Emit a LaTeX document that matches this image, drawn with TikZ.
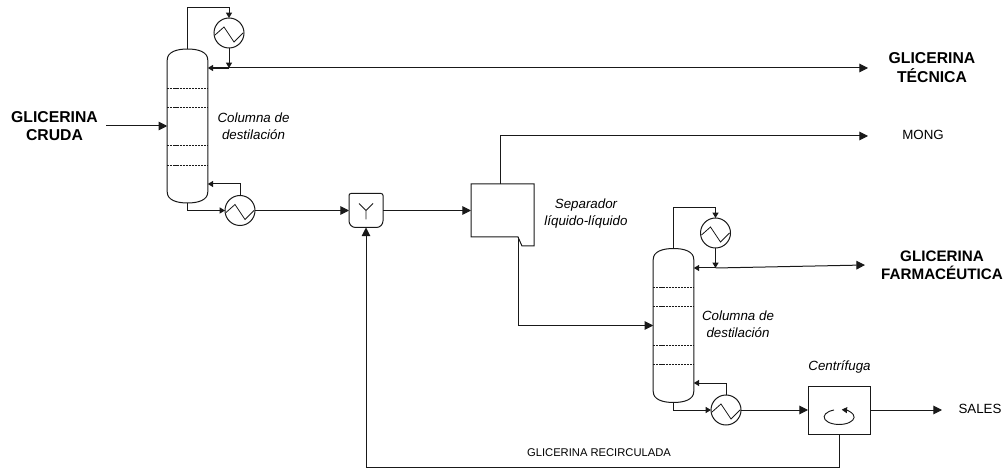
\documentclass[tikz,border=0pt]{standalone}
\usepackage{fontspec}
\setmainfont{Liberation Sans}
\usepackage{tikz}
\usetikzlibrary{arrows.meta,positioning,calc}
\definecolor{linea}{RGB}{25,25,25}
\tikzset{
  tubo/.style={draw=linea, line width=0.75pt},
  flujo/.style={tubo, -{Triangle[length=6.5pt,width=6.5pt]}},
  flujomin/.style={tubo, -{Triangle[length=4pt,width=4.5pt]}},
  cuerpo/.style={draw=none, inner sep=0pt, outer sep=0pt, minimum width=30.4pt, minimum height=115.5pt},
  plato/.style={draw=linea, line width=0.6pt, dash pattern=on 1.6pt off 0.7pt},
  intercambiador/.style={circle, draw=linea, line width=0.75pt, inner sep=0pt, outer sep=0pt, minimum size=22.5pt,
    path picture={\draw[linea, line width=0.6pt] ($(path picture bounding box.center)+(-14,2)$)
      -- ++(9,-8) -- ++(10,15) -- ++(9,-9);}},
  caja/.style={draw=none, inner sep=0pt, outer sep=0pt},
  corriente/.style={font=\fontsize{11.8}{14}\selectfont\bfseries, align=center, inner sep=0pt},
  rotulo/.style={font=\fontsize{10}{13}\selectfont\itshape, align=center, inner sep=0pt},
  menor/.style={font=\fontsize{10}{12}\selectfont, inner sep=0pt},
}
\newcommand{\columna}[1]{
  \draw[tubo] ($(#1.north west)+(0,11)$) .. controls ($(#1.north west)+(0,3)$) and ($(#1.north)+(-11,0)$) .. (#1.north)
    .. controls ($(#1.north)+(11,0)$) and ($(#1.north east)+(0,3)$) .. ($(#1.north east)+(0,11)$)
    -- ($(#1.south east)+(0,-11)$) .. controls ($(#1.south east)+(0,-3)$) and ($(#1.south)+(11,0)$) .. (#1.south)
    .. controls ($(#1.south)+(-11,0)$) and ($(#1.south west)+(0,-3)$) .. ($(#1.south west)+(0,-11)$) -- cycle;
  \foreach \dy in {39,58,96.5,116}
    \draw[plato] ($(#1.north west)+(0,\dy)$) -- ($(#1.north east)+(0,\dy)$);
}

\begin{document}
\begin{tikzpicture}[x=0.75pt, y=-0.75pt]
  \useasboundingbox (0,0) rectangle (1007,470);

  % primera columna
  \node[cuerpo] (col1) at (187.5,126) {};
  \columna{col1}
  \node[intercambiador] (cond1) at (229,33) {};
  \node[intercambiador] (reb1) at (240,210.5) {};
  \coordinate (jun1) at (229,68);
  \coordinate (sal1) at (868,68);
  \coordinate (feed1) at (106,126);
  \node[corriente] (crude) at (54.5,126) {GLICERINA\\CRUDA};
  \node[corriente] (tecnica) at (932,67.5) {GLICERINA\\TÉCNICA};
  \node[rotulo] (lbl1) at (253.5,126.5) {Columna de\\destilación};
  \draw[flujo] (feed1) -- (col1.west);
  \draw[flujomin] (col1.north) |- (187.5,8) -| (cond1.north);
  \draw[flujomin] (cond1.south) -- (jun1);
  \draw[flujo] (jun1) -- (sal1);
  \draw[flujomin, line width=1.1pt] (jun1) -- (jun1 -| col1.east);
  \draw[flujomin] (col1.south) |- (reb1.west);
  \draw[flujomin] (reb1.north) |- (col1.east |- 0,184);

  % mezclador
  \node[caja, minimum width=25.5pt, minimum height=25.5pt] (mix) at (366,210.5) {};
  \draw[tubo, rounded corners=1.5pt] (mix.west) |- (mix.north) -| (mix.east);
  \draw[tubo, rounded corners=5pt] (mix.east) |- (mix.south) -| (mix.west);
  \draw[tubo, line width=0.6pt] ($(mix.center)+(0,9)$) -- (mix.center) -- ++(-7,-7)
    (mix.center) -- ++(7,-7);
  \draw[flujo] (reb1.east) -- (mix.west);

  % separador
  \node[caja, minimum width=47.25pt, minimum height=39.75pt] (sep) at (502.5,210.5) {};
  \coordinate (septop) at (500,184);
  \coordinate (sepbot) at (518,237);
  \coordinate (sal2) at (868,136);
  \draw[tubo] (sep.north west) -- (sep.north east) -- ($(sep.south east)+(0,9)$) -- ++(-12,0)
    -- (sepbot) -- (sep.south west) -- cycle;
  \node[rotulo] (lbl2) at (586,213.5) {Separador\\líquido-líquido};
  \node[menor] (mong) at (923,135) {MONG};
  \draw[flujo] (mix.east) -- (sep.west);
  \draw[flujo] (septop) |- (sal2);

  % segunda columna
  \node[cuerpo] (col2) at (673.5,325.5) {};
  \columna{col2}
  \node[intercambiador] (cond2) at (715.5,233) {};
  \node[intercambiador] (reb2) at (726,410) {};
  \coordinate (jun2) at (715.5,268);
  \coordinate (sal3) at (865,265);
  \node[corriente, font=\fontsize{11.4}{13.5}\selectfont\bfseries] (farma) at (942,265) {GLICERINA\\FARMACÉUTICA};
  \node[rotulo] (lbl3) at (738,324.5) {Columna de\\destilación};
  \draw[flujo] (sepbot) |- (col2.west);
  \draw[flujomin] (col2.north) |- (673.5,208) -| (cond2.north);
  \draw[flujomin] (cond2.south) -- (jun2);
  \draw[flujo] (jun2) -- (sal3);
  \draw[flujomin] (jun2) -- (jun2 -| col2.east);
  \draw[flujomin] (col2.south) |- (reb2.west);
  \draw[flujomin] (reb2.north) |- (col2.east |- 0,383);

  % centrifuga
  \node[caja, draw=linea, line width=0.75pt, minimum width=46.5pt, minimum height=36pt] (cen) at (839,410) {};
  \node[rotulo] (lbl4) at (839.5,367) {Centrífuga};
  \node[menor] (sales) at (980,409) {SALES};
  \coordinate (sal4) at (942,410);
  \draw[flujomin, line width=0.7pt] ($(cen.center)+(-5,0)$)
    arc[start angle=110, end angle=440, x radius=11.25pt, y radius=5.6pt];
  \draw[flujo] (reb2.east) -- (cen.west);
  \draw[flujo] (cen.east) -- (sal4);

  % reciclo
  \coordinate (fondo) at (839,467);
  \draw[flujo] (cen.south) -- (fondo) -| (mix.south);
  \node[menor, font=\fontsize{8.4}{10}\selectfont] (lbl5) at (599,453) {GLICERINA RECIRCULADA};
\end{tikzpicture}
\end{document}
